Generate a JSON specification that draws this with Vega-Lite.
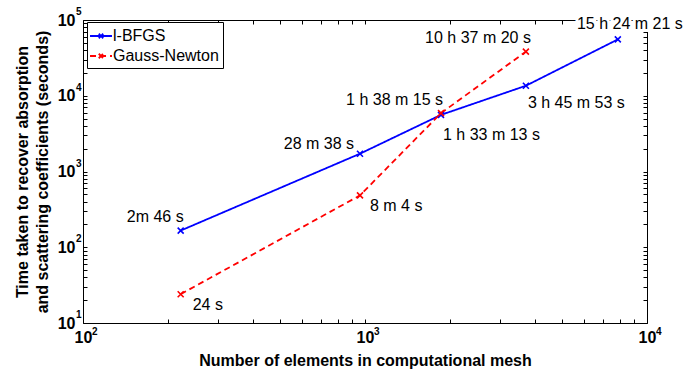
{
  "$schema": "https://vega.github.io/schema/vega-lite/v6.json",
  "width": 564,
  "height": 303,
  "autosize": {"type": "none"},
  "padding": {"left": 83, "top": 20, "right": 38, "bottom": 47},
  "background": "white",
  "config": {
    "view": {"stroke": null},
    "font": "Liberation Sans",
    "axis": {"grid": false, "domainColor": "black", "tickColor": "black", "labelColor": "black", "titleColor": "black"}
  },
  "data": {
    "values": [
      {"method": "l-BFGS", "elements": 222, "seconds": 166, "label": "2m 46 s"},
      {"method": "l-BFGS", "elements": 960, "seconds": 1718, "label": "28 m 38 s"},
      {"method": "l-BFGS", "elements": 1860, "seconds": 5593, "label": "1 h 33 m 13 s"},
      {"method": "l-BFGS", "elements": 3720, "seconds": 13553, "label": "3 h 45 m 53 s"},
      {"method": "l-BFGS", "elements": 7880, "seconds": 55461, "label": "15 h 24 m 21 s"},
      {"method": "Gauss-Newton", "elements": 222, "seconds": 24, "label": "24 s"},
      {"method": "Gauss-Newton", "elements": 960, "seconds": 484, "label": "8 m 4 s"},
      {"method": "Gauss-Newton", "elements": 1860, "seconds": 5895, "label": "1 h 38 m 15 s"},
      {"method": "Gauss-Newton", "elements": 3720, "seconds": 38240, "label": "10 h 37 m 20 s"}
    ]
  },
  "layer": [
    {
      "encoding": {
        "x": {
          "field": "elements", "type": "quantitative",
          "scale": {"type": "log", "domain": [100, 10000], "nice": false},
          "axis": {
            "orient": "bottom",
            "title": "Number of elements in computational mesh",
            "titleFont": "Liberation Sans", "titleFontSize": 16, "titleFontWeight": "bold", "titlePadding": 7,
            "values": [100, 200, 300, 400, 500, 600, 700, 800, 900, 1000, 2000, 3000, 4000, 5000, 6000, 7000, 8000, 9000, 10000],
            "labelExpr": "datum.value == 100 || datum.value == 1000 || datum.value == 10000 ? '10' : ''",
            "labelFont": "Liberation Sans", "labelFontSize": 16, "labelFontWeight": "bold",
            "tickSize": -4, "labelPadding": 10, "labelFlush": false, "labelOverlap": false
          }
        },
        "y": {
          "field": "seconds", "type": "quantitative",
          "scale": {"type": "log", "domain": [10, 100000], "nice": false},
          "axis": {
            "orient": "left",
            "title": ["Time taken to recover absorption", "and scattering coefficients (seconds)"],
            "titleFont": "Liberation Sans", "titleFontSize": 16, "titleFontWeight": "bold", "titlePadding": 7, "titleLineHeight": 20,
            "values": [10, 20, 30, 40, 50, 60, 70, 80, 90, 100, 200, 300, 400, 500, 600, 700, 800, 900, 1000, 2000, 3000, 4000, 5000, 6000, 7000, 8000, 9000, 10000, 20000, 30000, 40000, 50000, 60000, 70000, 80000, 90000, 100000],
            "labelExpr": "datum.value == 10 || datum.value == 100 || datum.value == 1000 || datum.value == 10000 || datum.value == 100000 ? '10' : ''",
            "labelFont": "Liberation Sans", "labelFontSize": 16, "labelFontWeight": "bold",
            "tickSize": -4, "labelPadding": 12, "labelFlush": false, "labelOverlap": false
          }
        }
      },
      "layer": [
        {
          "mark": {"type": "line", "strokeWidth": 1.8},
          "encoding": {
            "color": {
              "field": "method", "type": "nominal",
              "scale": {"domain": ["l-BFGS", "Gauss-Newton"], "range": ["#0000ff", "#ff0000"]},
              "legend": {
                "title": null, "orient": "none", "legendX": 4, "legendY": 2,
                "strokeColor": "black", "fillColor": "white", "padding": 4,
                "labelFont": "Liberation Sans", "labelFontSize": 16, "labelColor": "black",
                "symbolType": "M-1.22,0L1.22,0M-0.25,-0.25L0.25,0.25M-0.25,0.25L0.25,-0.25",
                "symbolSize": 324, "symbolStrokeWidth": 1.8, "labelOffset": 2, "rowPadding": 2
              }
            },
            "strokeDash": {
              "field": "method", "type": "nominal",
              "scale": {"domain": ["l-BFGS", "Gauss-Newton"], "range": [[1, 0], [6, 4]]},
              "legend": {
                "title": null, "orient": "none", "legendX": 4, "legendY": 2,
                "strokeColor": "black", "fillColor": "white", "padding": 4,
                "labelFont": "Liberation Sans", "labelFontSize": 16, "labelColor": "black",
                "symbolType": "M-1.22,0L1.22,0M-0.25,-0.25L0.25,0.25M-0.25,0.25L0.25,-0.25",
                "symbolSize": 324, "symbolStrokeWidth": 1.8, "labelOffset": 2, "rowPadding": 2
              }
            }
          }
        },
        {
          "mark": {"type": "point", "shape": "M-1,-1L1,1M-1,1L1,-1", "filled": false, "size": 36, "strokeWidth": 1.6, "opacity": 1},
          "encoding": {
            "color": {"field": "method", "type": "nominal", "legend": null}
          }
        },
        {"transform": [{"filter": "datum.label == '2m 46 s'"}], "mark": {"type": "text", "align": "right", "baseline": "middle", "dx": 3, "dy": -14, "fontSize": 16, "font": "Liberation Sans"}, "encoding": {"text": {"field": "label"}}},
        {"transform": [{"filter": "datum.label == '28 m 38 s'"}], "mark": {"type": "text", "align": "right", "baseline": "middle", "dx": -6, "dy": -10, "fontSize": 16, "font": "Liberation Sans"}, "encoding": {"text": {"field": "label"}}},
        {"transform": [{"filter": "datum.label == '1 h 38 m 15 s'"}], "mark": {"type": "text", "align": "right", "baseline": "middle", "dx": 2, "dy": -13, "fontSize": 16, "font": "Liberation Sans"}, "encoding": {"text": {"field": "label"}}},
        {"transform": [{"filter": "datum.label == '10 h 37 m 20 s'"}], "mark": {"type": "text", "align": "right", "baseline": "middle", "dx": 5, "dy": -14, "fontSize": 16, "font": "Liberation Sans"}, "encoding": {"text": {"field": "label"}}},
        {"transform": [{"filter": "datum.label == '24 s'"}], "mark": {"type": "text", "align": "left", "baseline": "middle", "dx": 12, "dy": 11, "fontSize": 16, "font": "Liberation Sans"}, "encoding": {"text": {"field": "label"}}},
        {"transform": [{"filter": "datum.label == '8 m 4 s'"}], "mark": {"type": "text", "align": "left", "baseline": "middle", "dx": 10, "dy": 11, "fontSize": 16, "font": "Liberation Sans"}, "encoding": {"text": {"field": "label"}}},
        {"transform": [{"filter": "datum.label == '1 h 33 m 13 s'"}], "mark": {"type": "text", "align": "left", "baseline": "middle", "dx": 2, "dy": 20, "fontSize": 16, "font": "Liberation Sans"}, "encoding": {"text": {"field": "label"}}},
        {"transform": [{"filter": "datum.label == '3 h 45 m 53 s'"}], "mark": {"type": "text", "align": "left", "baseline": "middle", "dx": 2, "dy": 17, "fontSize": 16, "font": "Liberation Sans"}, "encoding": {"text": {"field": "label"}}},
        {"transform": [{"filter": "datum.label == '15 h 24 m 21 s'"}], "mark": {"type": "text", "align": "center", "baseline": "middle", "dx": 12, "dy": -15, "fontSize": 16, "font": "Liberation Sans", "stroke": "white", "strokeWidth": 6, "fill": "white"}, "encoding": {"text": {"field": "label"}}},
        {"transform": [{"filter": "datum.label == '15 h 24 m 21 s'"}], "mark": {"type": "text", "align": "center", "baseline": "middle", "dx": 12, "dy": -15, "fontSize": 16, "font": "Liberation Sans"}, "encoding": {"text": {"field": "label"}}}
      ]
    },
    {
      "mark": {"type": "point", "opacity": 0},
      "encoding": {
        "x": {
          "field": "elements", "type": "quantitative",
          "scale": {"type": "log", "domain": [100, 10000], "nice": false},
          "axis": {"orient": "top", "title": null, "labels": false, "tickSize": -4,
            "values": [100, 200, 300, 400, 500, 600, 700, 800, 900, 1000, 2000, 3000, 4000, 5000, 6000, 7000, 8000, 9000, 10000]}
        },
        "y": {
          "field": "seconds", "type": "quantitative",
          "scale": {"type": "log", "domain": [10, 100000], "nice": false},
          "axis": {"orient": "right", "title": null, "labels": false, "tickSize": -4,
            "values": [10, 20, 30, 40, 50, 60, 70, 80, 90, 100, 200, 300, 400, 500, 600, 700, 800, 900, 1000, 2000, 3000, 4000, 5000, 6000, 7000, 8000, 9000, 10000, 20000, 30000, 40000, 50000, 60000, 70000, 80000, 90000, 100000]}
        }
      }
    },
    {
      "data": {"values": [
        {"elements": 100, "seconds": 10, "exp": "2"},
        {"elements": 1000, "seconds": 10, "exp": "3"},
        {"elements": 10000, "seconds": 10, "exp": "4"}
      ]},
      "mark": {"type": "text", "align": "left", "baseline": "middle", "dx": 9, "dy": 9, "fontSize": 10, "fontWeight": "bold", "font": "Liberation Sans", "color": "black"},
      "encoding": {
        "x": {"field": "elements", "type": "quantitative", "scale": {"type": "log", "domain": [100, 10000], "nice": false}, "axis": null},
        "y": {"field": "seconds", "type": "quantitative", "scale": {"type": "log", "domain": [10, 100000], "nice": false}, "axis": null},
        "text": {"field": "exp", "type": "nominal"}
      }
    },
    {
      "data": {"values": [
        {"elements": 100, "seconds": 10, "exp": "1"},
        {"elements": 100, "seconds": 100, "exp": "2"},
        {"elements": 100, "seconds": 1000, "exp": "3"},
        {"elements": 100, "seconds": 10000, "exp": "4"},
        {"elements": 100, "seconds": 100000, "exp": "5"}
      ]},
      "mark": {"type": "text", "align": "left", "baseline": "middle", "dx": -7, "dy": -8, "fontSize": 10, "fontWeight": "bold", "font": "Liberation Sans", "color": "black"},
      "encoding": {
        "x": {"field": "elements", "type": "quantitative", "scale": {"type": "log", "domain": [100, 10000], "nice": false}, "axis": null},
        "y": {"field": "seconds", "type": "quantitative", "scale": {"type": "log", "domain": [10, 100000], "nice": false}, "axis": null},
        "text": {"field": "exp", "type": "nominal"}
      }
    }
  ],
  "resolve": {"axis": {"x": "independent", "y": "independent"}}
}
